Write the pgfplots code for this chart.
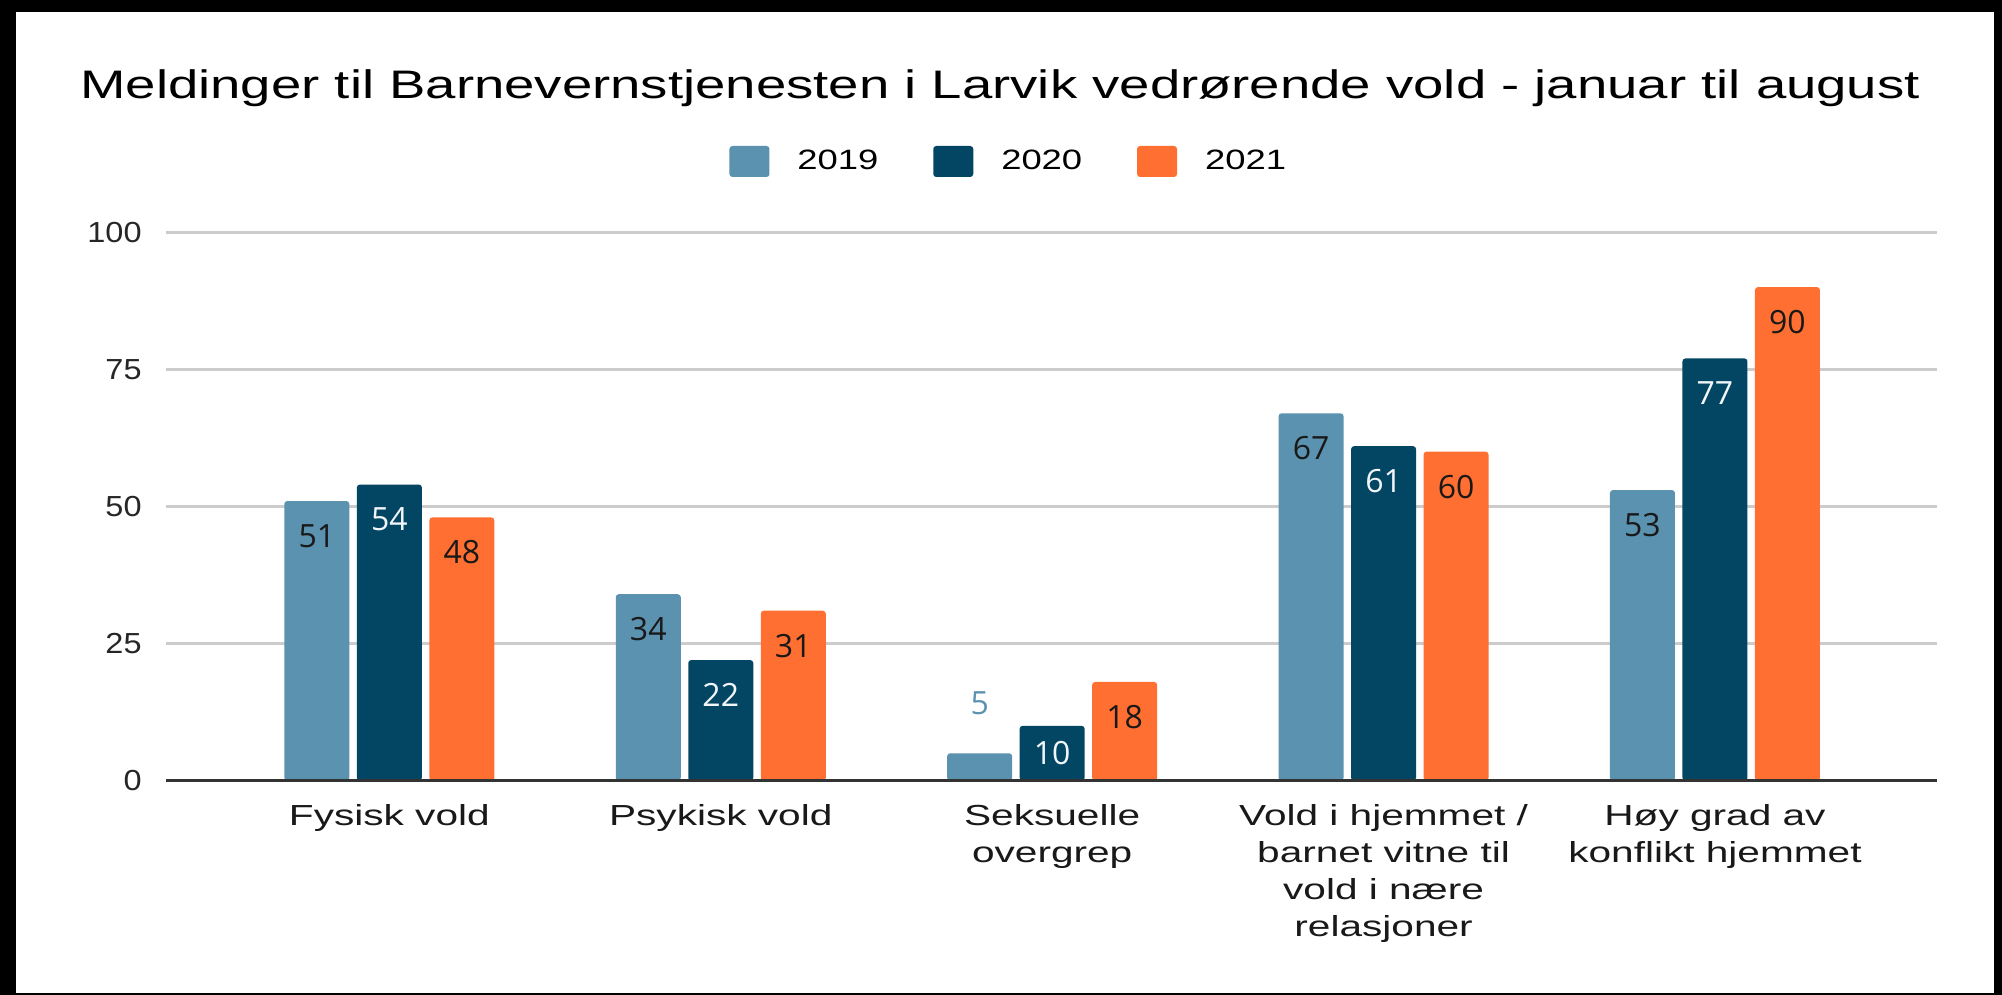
\documentclass[border=0pt]{standalone}
\usepackage{pgfplots}
\pgfplotsset{compat=1.18}
\usepackage{fontspec}
\setmainfont{Liberation Sans}[FakeStretch=1.3]
\newfontfamily\titlefont{Liberation Sans}[FakeStretch=1.37]
\newfontfamily\catfont{Liberation Sans}[FakeStretch=1.4]
\newfontfamily\tickfont{Liberation Sans}[FakeStretch=1.12]
\newfontfamily\lblfont{Open Sans}
\definecolor{c2019}{HTML}{5B92B0}
\definecolor{c2020}{HTML}{034664}
\definecolor{c2021}{HTML}{FF6F31}
\definecolor{gridc}{HTML}{CCCCCC}
\definecolor{basec}{HTML}{333333}
\pgfplotsset{
  inlbl/.style={nodes near coords, every node near coord/.append style={anchor=center, yshift=-17.5pt, inner sep=0pt, font=\lblfont\fontsize{16}{16}\selectfont, text=#1}},
  sq/.style={legend image code/.code={\path[##1, draw=none, rounded corners=1.5pt] (0pt,-7.75pt) rectangle (20pt,7.75pt);}},
}
\begin{document}
\begin{tikzpicture}
\fill[black] (-83pt,-107.15pt) rectangle (918pt,390.35pt);
\fill[white] (-75pt,-106.15pt) rectangle (914pt,384.35pt);
\begin{axis}[
  at={(0pt,0pt)}, anchor=south west,
  scale only axis, width=885.5pt, height=274.2pt,
  xmin=-0.674, xmax=4.67, ymin=0, ymax=100,
  ybar, bar width=32.5pt,
  axis line style={draw=none},
  major tick length=0pt,
  ytick={0,25,50,75,100},
  ymajorgrids, grid style={gridc, line width=1.3pt},
  xtick={0,1,2,3,4},
  xticklabels={Fysisk vold, Psykisk vold, {Seksuelle\\overgrep}, {Vold i hjemmet /\\barnet vitne til\\vold i nære\\relasjoner}, {Høy grad av\\konflikt hjemmet}},
  xticklabel style={align=center, anchor=north, inner sep=0pt, yshift=-11.5pt, font=\catfont\fontsize{14.5}{18.5}\selectfont, text=black!90},
  yticklabel style={anchor=east, inner sep=0pt, xshift=-12pt, font=\tickfont\fontsize{14.5}{16}\selectfont, text=black!85},
  /pgf/number format/assume math mode=true,
  legend style={at={(0.4753,1.1291)}, anchor=center, draw=none, fill=none, legend columns=-1, font=\fontsize{14}{16}\selectfont, nodes={inner sep=0pt}, /tikz/every odd column/.append style={column sep=14pt}, /tikz/every even column/.append style={column sep=27.4pt}},
  clip=false,
]
\addplot[fill=c2019, draw=none, bar shift=-36.25pt, rounded corners=1.5pt, inlbl=black!90, sq] coordinates {(0,51) (1,34) (3,67) (4,53)};
\addlegendentry{2019}
\addplot[forget plot, fill=c2019, draw=none, bar shift=-36.25pt, rounded corners=1.5pt, nodes near coords, every node near coord/.append style={anchor=center, yshift=25pt, inner sep=0pt, font=\lblfont\fontsize{16}{16}\selectfont, text=c2019}] coordinates {(2,5)};
\addplot[fill=c2020, draw=none, bar shift=0pt, rounded corners=1.5pt, inlbl={white!92!c2019}, sq] coordinates {(0,54) (1,22) (3,61) (4,77)};
\addlegendentry{2020}
\addplot[forget plot, fill=c2020, draw=none, bar shift=0pt, rounded corners=1.5pt, nodes near coords, every node near coord/.append style={anchor=center, yshift=-13.5pt, inner sep=0pt, font=\lblfont\fontsize{16}{16}\selectfont, text=white!92!c2019}] coordinates {(2,10)};
\addplot[fill=c2021, draw=none, bar shift=36.25pt, rounded corners=1.5pt, inlbl=black!90, sq] coordinates {(0,48) (1,31) (2,18) (3,60) (4,90)};
\addlegendentry{2021}
\draw[basec, line width=1.5pt] (rel axis cs:0,0) -- (rel axis cs:1,0);
\end{axis}
\node[anchor=base west, inner sep=0pt, font=\titlefont\fontsize{19.9}{22}\selectfont] at (-43pt,341.2pt) {Meldinger til Barnevernstjenesten i Larvik vedrørende vold - januar til august};
\end{tikzpicture}
\end{document}
